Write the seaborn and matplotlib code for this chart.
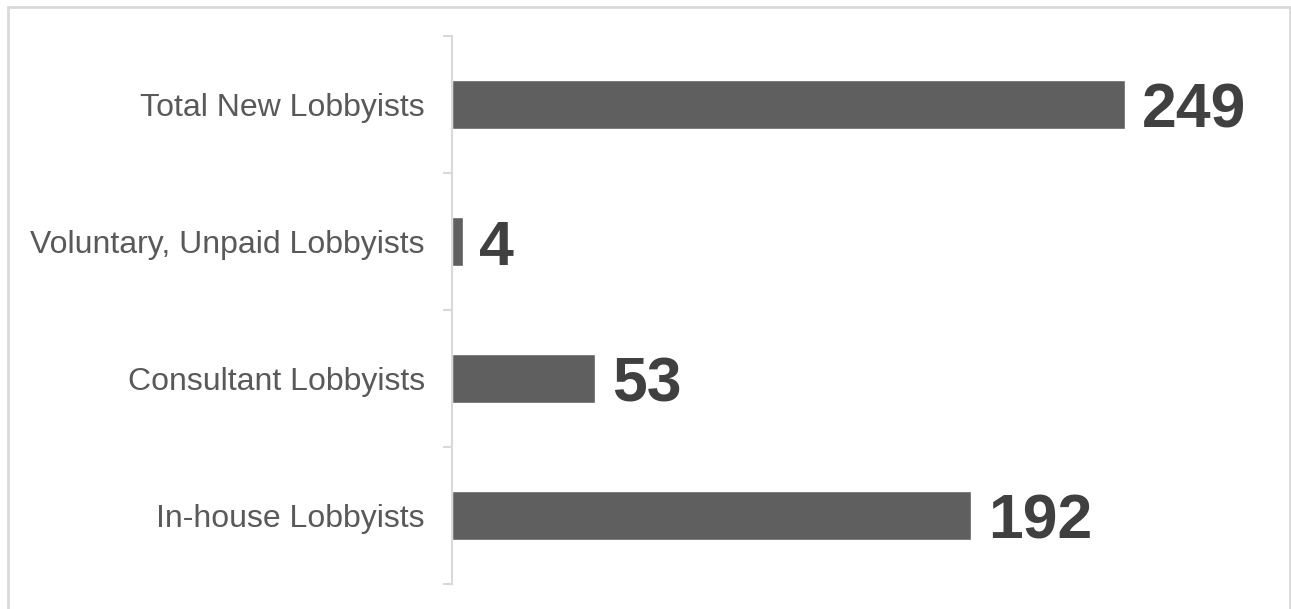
import matplotlib
matplotlib.use("Agg")
import matplotlib.pyplot as plt
import seaborn as sns
import pandas as pd
from matplotlib.patches import Rectangle

categories = ["Total New Lobbyists", "Voluntary, Unpaid Lobbyists",
              "Consultant Lobbyists", "In-house Lobbyists"]
values = [249, 4, 53, 192]

df = pd.DataFrame({"category": categories, "value": values})

sns.set_theme(style="white")
plt.rcParams['font.family'] = ['Liberation Sans', 'DejaVu Sans']

W, H = 1291, 609
fig = plt.figure(figsize=(W / 100, H / 100), dpi=100)
ax = fig.add_axes([452 / W, 1 - 584 / H, (1263 - 452) / W, (584 - 36) / H])

sns.barplot(data=df, x="value", y="category", order=categories, orient="h",
            color="#5f5f5f", saturation=1, width=0.36, ax=ax)

ax.set_xlim(0, 300)
ax.set_ylim(3.5, -0.5)
ax.set_xlabel("")
ax.set_ylabel("")
ax.set_xticks([])

for s in ["top", "right", "bottom"]:
    ax.spines[s].set_visible(False)
ax.spines["left"].set_color("#d9d9d9")
ax.spines["left"].set_linewidth(1.5)

ax.set_yticks(range(len(categories)))
ax.set_yticklabels(categories)
ax.tick_params(axis="y", which="major", length=0, pad=19.5, labelsize=23,
               labelcolor="#595959")
ax.set_yticks([i - 0.5 for i in range(len(categories) + 1)], minor=True)
ax.tick_params(axis="y", which="minor", length=6.5, width=1.5, color="#d9d9d9", left=True)

for bar, v in zip(ax.patches, values):
    y = bar.get_y() + bar.get_height() / 2
    ax.annotate(f"{v}", xy=(bar.get_width(), y), xytext=(12, 0),
                textcoords="offset points", va="center_baseline", ha="left",
                fontsize=45, fontweight="bold", color="#404040")

fig.patches.append(Rectangle((8 / W, -0.05), (1290 - 8) / W, 1.05 - 7 / H,
                             transform=fig.transFigure, fill=False,
                             edgecolor="#d9d9d9", linewidth=2))

fig.savefig("out.png", dpi=100, facecolor="white")
